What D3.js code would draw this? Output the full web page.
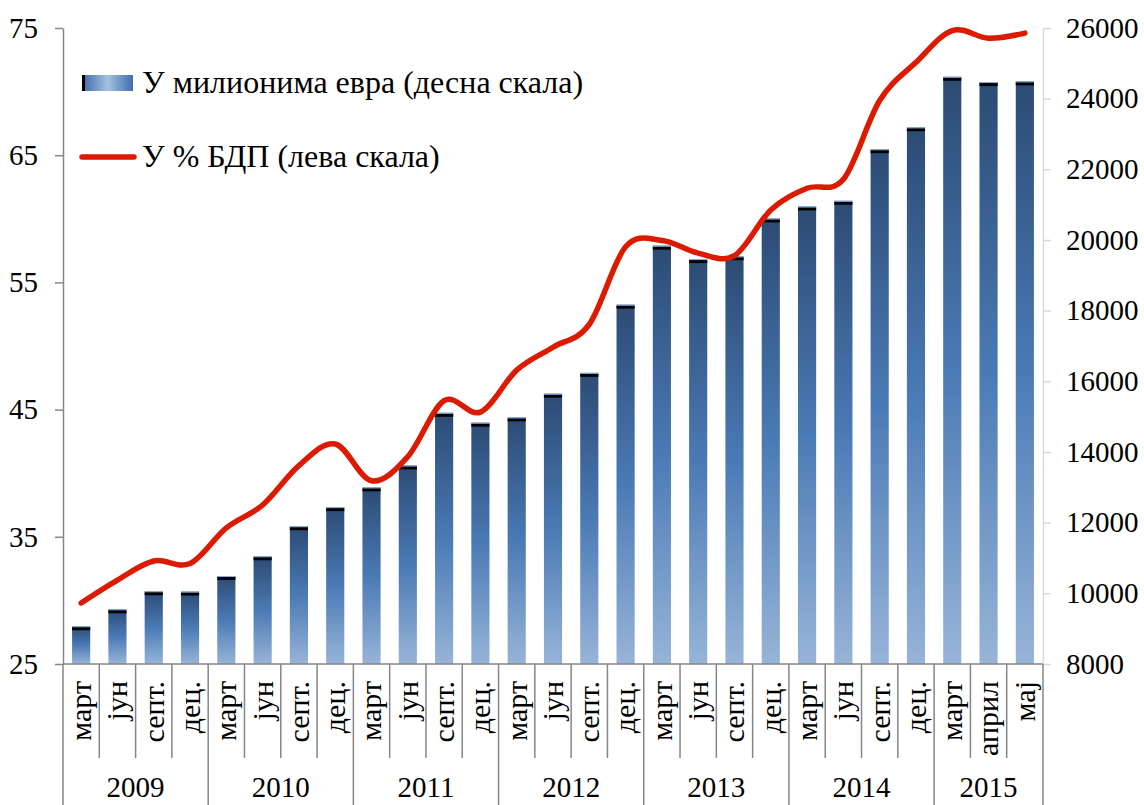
<!DOCTYPE html>
<html>
<head>
<meta charset="utf-8">
<script src="https://cdn.jsdelivr.net/npm/d3@7"></script>
<style>
  body { margin: 0; background: #fff; }
  svg { display: block; }
  svg text { font-family: "Liberation Serif", "Times New Roman", Times, serif !important; fill: #000; }
</style>
</head>
<body>
<div id="chart"></div>
<script>
let w = 1144;
let h = 805;

// data
let periods = ["март","јун","септ.","дец.",
  "март","јун","септ.","дец.",
  "март","јун","септ.","дец.",
  "март","јун","септ.","дец.",
  "март","јун","септ.","дец.",
  "март","јун","септ.","дец.",
  "март","април","мај"];
let yearLabels = ["2009","2010","2011","2012","2013","2014","2015"];
let yearCounts = [4,4,4,4,4,4,3];
// у милионима евра (десна скала)
let debtEur = [9070, 9550, 10060, 10050, 10490, 11050, 11900, 12440, 13000, 13620, 15110, 14830,
  14980, 15650, 16240, 18170, 19840, 19460, 19540, 20610, 20950, 21110, 22570, 23190, 24620, 24470, 24490];
// у % БДП (лева скала)
let debtGdp = [29.8, 31.6, 33.1, 32.9, 35.7, 37.5, 40.6, 42.3, 39.4, 41.3, 45.7, 44.8,
  48.1, 49.9, 51.7, 57.8, 58.3, 57.3, 57.1, 60.7, 62.4, 63.1, 69.3, 72.3, 74.8, 74.2, 74.6];
let leftTicks = [25, 35, 45, 55, 65, 75];
let rightTicks = [8000, 10000, 12000, 14000, 16000, 18000, 20000, 22000, 24000, 26000];
let legendLabels = ["У милионима евра (десна скала)", "У % БДП (лева скала)"];

let mLeft = 63, mRight = 1043, mTop = 28, mBottom = 664;

let svg = d3.select("#chart").append("svg")
  .attr("width", w)
  .attr("height", h);

let defs = svg.append("defs");
let grad = defs.append("linearGradient")
  .attr("id", "barGrad")
  .attr("x1", 0).attr("y1", 0).attr("x2", 0).attr("y2", 1);
grad.append("stop").attr("offset", "0%").attr("stop-color", "#2c4b74");
grad.append("stop").attr("offset", "50%").attr("stop-color", "#4a7ab5");
grad.append("stop").attr("offset", "100%").attr("stop-color", "#97b4d8");

let legGrad = defs.append("linearGradient")
  .attr("id", "legGrad")
  .attr("x1", 0).attr("y1", 0).attr("x2", 1).attr("y2", 0);
legGrad.append("stop").attr("offset", "0%").attr("stop-color", "#3a68a3");
legGrad.append("stop").attr("offset", "50%").attr("stop-color", "#a5c0e2");
legGrad.append("stop").attr("offset", "100%").attr("stop-color", "#3f6fab");

// scales
let x = d3.scaleBand()
  .domain(d3.range(periods.length))
  .range([mLeft, mRight])
  .paddingInner(0.5)
  .paddingOuter(0.25);
let yLeft = d3.scaleLinear().domain([25, 75]).range([mBottom, mTop]);
let yRight = d3.scaleLinear().domain([8000, 26000]).range([mBottom, mTop]);
let cx = i => x(i) + x.bandwidth() / 2;

// bars
let bars = svg.append("g").selectAll("g").data(debtEur).enter().append("g");
bars.append("rect")
  .attr("x", (d, i) => x(i))
  .attr("y", d => yRight(d))
  .attr("width", x.bandwidth())
  .attr("height", d => mBottom - yRight(d))
  .attr("fill", "url(#barGrad)");
bars.append("rect")
  .attr("x", (d, i) => x(i))
  .attr("y", d => yRight(d) + 1)
  .attr("width", x.bandwidth())
  .attr("height", 3)
  .attr("fill", "#000");
bars.append("rect")
  .attr("x", (d, i) => x(i))
  .attr("y", d => yRight(d))
  .attr("width", x.bandwidth())
  .attr("height", 1)
  .attr("fill", "#8db3e2");

// line
let line = d3.line()
  .x((d, i) => cx(i))
  .y(d => yLeft(d))
  .curve(d3.curveCardinal.tension(0));
svg.append("path")
  .datum(debtGdp)
  .attr("d", line)
  .attr("fill", "none")
  .attr("stroke", "#dc1a00")
  .attr("stroke-width", 5.5)
  .attr("stroke-linecap", "round")
  .attr("stroke-linejoin", "round");

// left axis
let leftAxis = svg.append("g")
  .attr("transform", "translate(" + mLeft + ",0)")
  .call(d3.axisLeft(yLeft).tickValues(leftTicks).tickSize(8).tickPadding(17).tickSizeOuter(0));
leftAxis.attr("font-size", 29);
leftAxis.select(".domain").attr("stroke", "#868686").attr("stroke-width", 1.5);
leftAxis.selectAll(".tick line").attr("stroke", "#868686").attr("stroke-width", 1.5);

// right axis
let rightAxis = svg.append("g")
  .attr("transform", "translate(" + mRight + ",0)")
  .call(d3.axisRight(yRight).tickValues(rightTicks).tickFormat(d3.format("d"))
    .tickSize(8).tickPadding(15).tickSizeOuter(0));
rightAxis.attr("font-size", 29);
rightAxis.select(".domain").attr("stroke", "#d9d9d9").attr("stroke-width", 1.5);
rightAxis.selectAll(".tick line").attr("stroke", "#d9d9d9").attr("stroke-width", 1.5);

// category axis
let catAxis = svg.append("g");
catAxis.append("line")
  .attr("x1", mLeft).attr("x2", mRight)
  .attr("y1", mBottom).attr("y2", mBottom)
  .attr("stroke", "#868686").attr("stroke-width", 1.5);

let step = x.step();
let boundaries = d3.range(periods.length + 1).map(i => mLeft + i * step);
let yearStarts = Array.from(d3.cumsum([0].concat(yearCounts)));
catAxis.selectAll(".sep").data(boundaries).enter().append("line")
  .attr("class", "sep")
  .attr("x1", d => d).attr("x2", d => d)
  .attr("y1", mBottom)
  .attr("y2", (d, i) => yearStarts.includes(i) ? h : 758)
  .attr("stroke", "#868686").attr("stroke-width", 1.5);

catAxis.selectAll(".cat").data(periods).enter().append("text")
  .attr("class", "cat")
  .attr("transform", (d, i) => "translate(" + cx(i) + ",681) rotate(-90)")
  .attr("dy", "0.33em")
  .attr("text-anchor", "end")
  .attr("font-size", 30)
  .text(d => d);

catAxis.selectAll(".year").data(yearLabels).enter().append("text")
  .attr("class", "year")
  .attr("x", (d, i) => mLeft + (yearStarts[i] + yearCounts[i] / 2) * step)
  .attr("y", 797)
  .attr("text-anchor", "middle")
  .attr("font-size", 29)
  .text(d => d);

// legend
let legend = svg.append("g").attr("font-size", 32);
legend.append("rect")
  .attr("x", 82).attr("y", 75).attr("width", 51).attr("height", 16)
  .attr("fill", "url(#legGrad)");
legend.append("rect")
  .attr("x", 82).attr("y", 75).attr("width", 3).attr("height", 16)
  .attr("fill", "#000");
legend.append("line")
  .attr("x1", 82).attr("x2", 134)
  .attr("y1", 157).attr("y2", 157)
  .attr("stroke", "#dc1a00").attr("stroke-width", 5.5)
  .attr("stroke-linecap", "round");
legend.selectAll(".leg").data(legendLabels).enter().append("text")
  .attr("class", "leg")
  .attr("x", 142)
  .attr("y", (d, i) => i === 0 ? 82 : 156)
  .attr("dy", "0.35em")
  .text(d => d);
</script>
</body>
</html>
